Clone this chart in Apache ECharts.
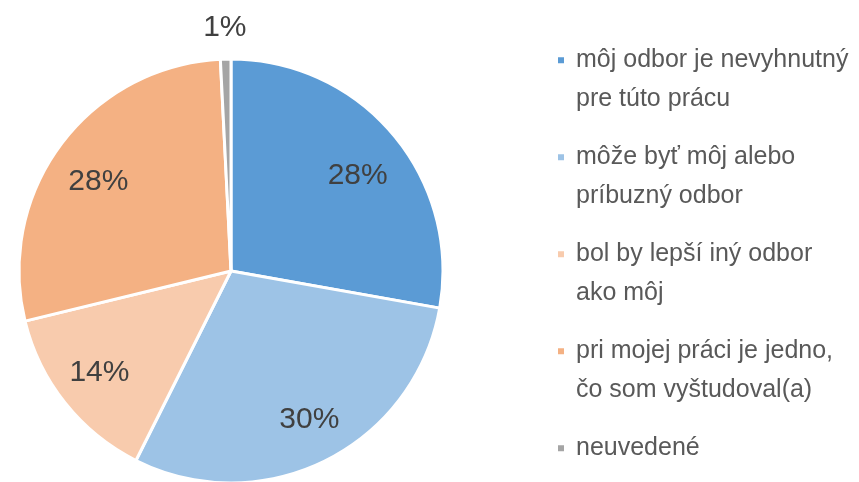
<!DOCTYPE html>
<html><head><meta charset="utf-8">
<script src="https://cdn.jsdelivr.net/npm/echarts@6/dist/echarts.min.js"></script>
<style>html,body{margin:0;padding:0;background:#fff}#c{width:859px;height:482px}</style>
</head><body><div id="c"></div>
<script>
var categories = ['môj odbor je nevyhnutný\npre túto prácu', 'môže byť môj alebo\npríbuzný odbor', 'bol by lepší iný odbor\nako môj', 'pri mojej práci je jedno,\nčo som vyštudoval(a)', 'neuvedené'];
var values = [27.8, 29.6, 13.8, 28.0, 0.8];
var colors = ['#5B9BD5', '#9DC3E6', '#F8CBAD', '#F4B183', '#A5A5A5'];
var labelRadius = [160, 166, 165, 161, 245];
var labelAngleShift = [2.3, -1.5, 1.4, -2.2, 0];

var CX = 231, CY = 271, R = 212, LH = 38.5;
var FONT = '"Liberation Sans", Arial, sans-serif';

var chart = echarts.init(document.getElementById('c'), null, {renderer: 'canvas'});
var pieData = categories.map(function (c, i) {
  return {name: c, value: values[i], itemStyle: {color: colors[i]}};
});
chart.setOption({
  animation: false,
  legend: {
    orient: 'vertical', left: 556, top: 2.5, padding: 0, height: 700,
    itemGap: 97 - 3 * LH,
    icon: 'rect', itemWidth: 8, itemHeight: 8,
    selectedMode: false,
    formatter: function (name) {
      return name.indexOf('\n') >= 0 ? ' \n' + name : ' \n' + name + '\n ';
    },
    textStyle: {fontFamily: FONT, fontSize: 25, color: '#595959', lineHeight: LH, padding: [0, 0, 0, 6]},
    data: categories
  },
  series: [{
    type: 'pie', center: [CX, CY], radius: [0, R], startAngle: 90, clockwise: true,
    silent: true, avoidLabelOverlap: false,
    itemStyle: {borderColor: '#fff', borderWidth: 3},
    label: {
      show: true, position: 'inside', fontFamily: FONT, fontSize: 30, color: '#404040',
      formatter: function (p) { return Math.round(p.value) + '%'; }
    },
    labelLine: {show: false},
    labelLayout: function (p) {
      var r = p.labelRect;
      var lx = r.x + r.width / 2, ly = r.y + r.height / 2;
      var ang = Math.atan2(lx - CX, CY - ly) + labelAngleShift[p.dataIndex] * Math.PI / 180;
      var t = labelRadius[p.dataIndex];
      return {dx: CX + Math.sin(ang) * t - lx, dy: CY - Math.cos(ang) * t - ly + 2};
    },
    data: pieData
  }]
});
</script></body></html>
